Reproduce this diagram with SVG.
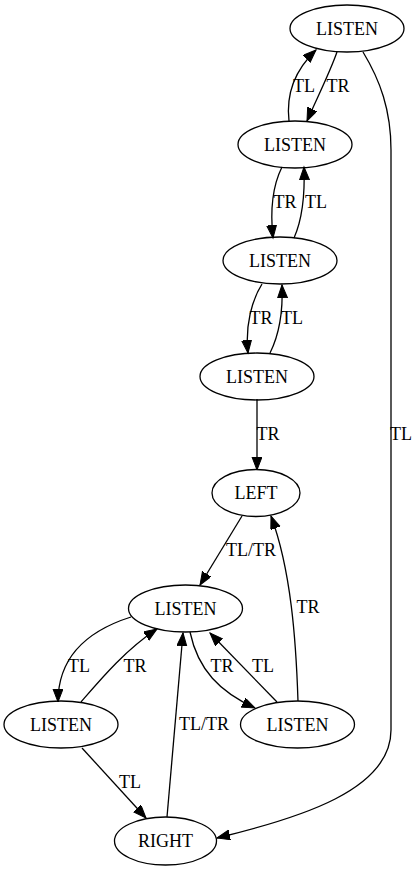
<svg xmlns="http://www.w3.org/2000/svg" width="420" height="871" viewBox="0 0 420 871">
<style>
ellipse{fill:none;stroke:#000;stroke-width:1.3}
text{font-family:"Liberation Serif","Times New Roman",serif;font-size:18px;fill:#000;text-anchor:middle}
.e path{fill:none;stroke:#000;stroke-width:1.3;marker-end:url(#a)}
</style>
<defs>
<marker id="a" markerUnits="userSpaceOnUse" markerWidth="16" markerHeight="12" refX="13" refY="5" orient="auto">
<path d="M0,0 L13,5 L0,10 Z" fill="#000" stroke="#000" stroke-width="1"/>
</marker>
</defs>
<rect width="420" height="871" fill="#fff"/>
<g id="edges" class="e">
<path d="M337,52 C330,72 318,96 307,121"/>
<path d="M289,121 C286,95 295,70 316,50"/>
<path d="M363,52 C380,80 391,110 391,150 L391,730 C391,790 300,818 217,838"/>
<path d="M282,167 C273,185 270,210 273,238"/>
<path d="M294,238 C302,220 305,195 304,167"/>
<path d="M262,284 C252,300 245,325 248,353"/>
<path d="M270,353 C279,335 283,310 282,285"/>
<path d="M257,399 L257,470"/>
<path d="M242,516 L200,585"/>
<path d="M298,701 C296,640 291,570 271,516"/>
<path d="M131,617 C90,630 58,655 58,702"/>
<path d="M81,702 C100,680 125,650 157,629"/>
<path d="M190,632 C198,670 220,692 255,708"/>
<path d="M277,702 L210,633"/>
<path d="M167,817 L183,633"/>
<path d="M82,748 L146,818"/>
</g>
<g id="edge-labels">
<text x="304" y="92">TL</text>
<text x="338" y="92">TR</text>
<text x="285" y="208">TR</text>
<text x="316" y="208">TL</text>
<text x="261" y="324">TR</text>
<text x="292" y="324">TL</text>
<text x="268" y="440">TR</text>
<text x="401" y="440">TL</text>
<text x="251" y="556">TL/TR</text>
<text x="308" y="613">TR</text>
<text x="79" y="672">TL</text>
<text x="135" y="672">TR</text>
<text x="222" y="672">TR</text>
<text x="263" y="672">TL</text>
<text x="204" y="730">TL/TR</text>
<text x="130" y="788">TL</text>
</g>
<g id="n1"><ellipse cx="347" cy="28.5" rx="57" ry="23.5"/><text x="347" y="34.5">LISTEN</text></g>
<g id="n2"><ellipse cx="295" cy="144.5" rx="57" ry="23.5"/><text x="295" y="150.5">LISTEN</text></g>
<g id="n3"><ellipse cx="280" cy="260.5" rx="57" ry="23.5"/><text x="280" y="266.5">LISTEN</text></g>
<g id="n4"><ellipse cx="257" cy="376.5" rx="57" ry="23.5"/><text x="257" y="382.5">LISTEN</text></g>
<g id="n5"><ellipse cx="256" cy="493" rx="44" ry="23.5"/><text x="256" y="499">LEFT</text></g>
<g id="n6"><ellipse cx="185.5" cy="608.5" rx="57" ry="23.5"/><text x="185.5" y="614.5">LISTEN</text></g>
<g id="n7"><ellipse cx="61" cy="724.5" rx="57" ry="23.5"/><text x="61" y="730.5">LISTEN</text></g>
<g id="n8"><ellipse cx="297.5" cy="724.5" rx="57" ry="23.5"/><text x="297.5" y="730.5">LISTEN</text></g>
<g id="n9"><ellipse cx="165.5" cy="841" rx="51" ry="24"/><text x="165.5" y="847">RIGHT</text></g>
</svg>
